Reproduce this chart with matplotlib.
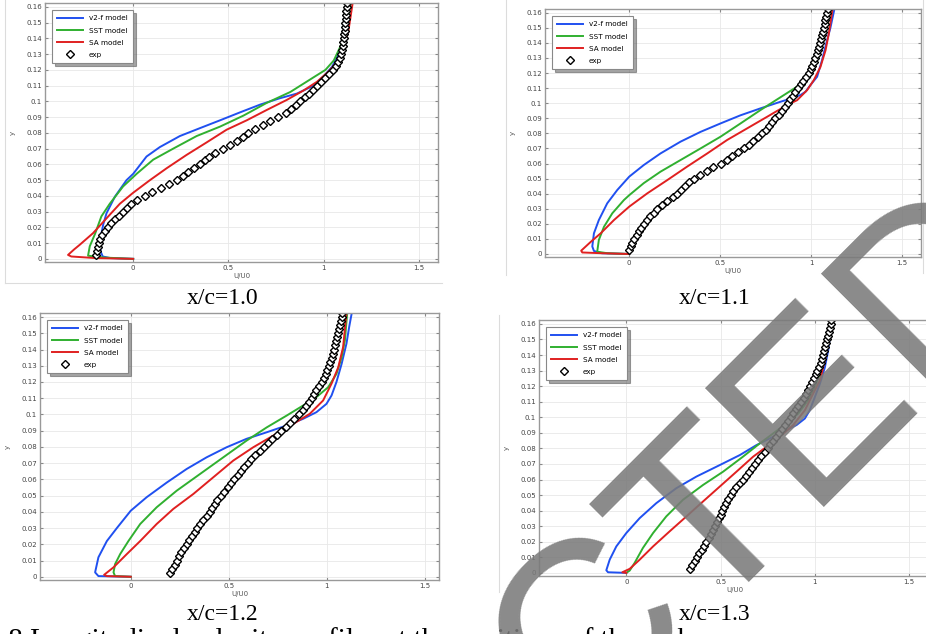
import matplotlib
matplotlib.use("Agg")
import matplotlib.pyplot as plt
from matplotlib.lines import Line2D

# --- data (U/U0 against y) ---
panel_names = ["x/c=1.0", "x/c=1.1", "x/c=1.2", "x/c=1.3"]
model_names = ["v2-f model", "SST model", "SA model"]
exp_name = "exp"

# panel x/c=1.0
v2f_y_10 = [0, 0.0005, 0.0015, 0.005, 0.01, 0.016, 0.022, 0.029, 0.0395, 0.05, 0.054, 0.065, 0.071, 0.078,
            0.083, 0.088, 0.093, 0.098, 0.102, 0.105, 0.110, 0.116, 0.122, 0.130, 0.141, 0.152, 0.1625]
v2f_u_10 = [0, -0.12, -0.16, -0.172, -0.172, -0.167, -0.157, -0.14, -0.096, -0.035, 0, 0.07, 0.14, 0.245,
            0.35, 0.456, 0.56, 0.667, 0.77, 0.86, 0.947, 1.0, 1.044, 1.079, 1.105, 1.123, 1.138]
sst_y_10 = [0, 0.0008, 0.002, 0.008, 0.016, 0.027, 0.035, 0.046, 0.054, 0.063, 0.070, 0.078, 0.084, 0.091,
            0.099, 0.106, 0.116, 0.120, 0.126, 0.135, 0.145, 0.1625]
sst_u_10 = [0, -0.15, -0.237, -0.228, -0.2, -0.167, -0.123, -0.053, 0.018, 0.105, 0.21, 0.333, 0.456, 0.579,
            0.70, 0.825, 0.956, 1.009, 1.053, 1.088, 1.114, 1.142]
sa_y_10 = [0, 0.0005, 0.0015, 0.0025, 0.006, 0.0089, 0.0163, 0.028, 0.035, 0.042, 0.050, 0.0575, 0.066,
           0.074, 0.082, 0.088, 0.0945, 0.101, 0.107, 0.1125, 0.119, 0.125, 0.135, 0.145, 0.1625]
sa_u_10 = [0, -0.2, -0.325, -0.342, -0.31, -0.281, -0.211, -0.123, -0.07, 0, 0.088, 0.175, 0.28,
           0.386, 0.49, 0.596, 0.70, 0.807, 0.895, 0.965, 1.026, 1.07, 1.105, 1.13, 1.152]

# panel x/c=1.1
v2f_y_11 = [0, 0.0005, 0.002, 0.005, 0.0137, 0.0225, 0.0336, 0.0424, 0.0513, 0.059, 0.0667, 0.0745, 0.081,
            0.0866, 0.092, 0.0966, 0.101, 0.103, 0.1054, 0.1076, 0.112, 0.1176, 0.1286, 0.142, 0.15, 0.1625]
v2f_u_11 = [0, -0.15, -0.194, -0.203, -0.194, -0.167, -0.121, -0.066, 0, 0.08, 0.172, 0.282, 0.392,
            0.502, 0.612, 0.722, 0.832, 0.886, 0.941, 0.969, 0.996, 1.033, 1.06, 1.088, 1.106, 1.128]
sst_y_11 = [0, 0.0005, 0.0015, 0.0093, 0.018, 0.027, 0.0358, 0.039, 0.047, 0.0546, 0.0623, 0.070, 0.0778,
            0.0866, 0.0955, 0.104, 0.111, 0.1153, 0.121, 0.131, 0.142, 0.151, 0.1625]
sst_u_11 = [0, -0.12, -0.176, -0.167, -0.139, -0.093, -0.029, 0, 0.08, 0.172, 0.282, 0.392, 0.502,
            0.612, 0.722, 0.832, 0.923, 0.969, 1.005, 1.042, 1.07, 1.088, 1.108]
sa_y_11 = [0, 0.0005, 0.001, 0.0022, 0.008, 0.0137, 0.0225, 0.0314, 0.0402, 0.049, 0.058, 0.0667, 0.0756,
           0.0833, 0.091, 0.0988, 0.102, 0.1087, 0.1154, 0.124, 0.135, 0.146, 0.1625]
sa_u_11 = [0, -0.15, -0.258, -0.264, -0.212, -0.157, -0.084, 0, 0.099, 0.209, 0.319, 0.429, 0.538,
           0.648, 0.758, 0.868, 0.923, 0.978, 1.015, 1.051, 1.079, 1.097, 1.118]

# panel x/c=1.2
v2f_y_12 = [0, 0.0004, 0.0027, 0.012, 0.022, 0.030, 0.0407, 0.049, 0.058, 0.0664, 0.0736, 0.0798, 0.085,
            0.089, 0.0932, 0.0973, 0.1014, 0.1065, 0.1117, 0.12, 0.131, 0.1436, 0.154, 0.1625]
v2f_u_12 = [0, -0.165, -0.182, -0.165, -0.122, -0.071, 0, 0.081, 0.183, 0.285, 0.387, 0.489, 0.591,
            0.693, 0.795, 0.879, 0.947, 0.998, 1.024, 1.049, 1.075, 1.1, 1.114, 1.127]
sst_y_12 = [0, 0.0004, 0.0027, 0.0078, 0.014, 0.022, 0.0325, 0.0428, 0.053, 0.0633, 0.0736, 0.0839, 0.092,
            0.0993, 0.1055, 0.1107, 0.1168, 0.125, 0.135, 0.1456, 0.1625]
sst_u_12 = [0, -0.08, -0.088, -0.08, -0.054, -0.012, 0.048, 0.132, 0.234, 0.353, 0.472, 0.591, 0.693,
            0.795, 0.879, 0.947, 1.007, 1.049, 1.075, 1.092, 1.104]
sa_y_12 = [0, 0.0004, 0.0012, 0.0058, 0.014, 0.022, 0.0325, 0.0418, 0.051, 0.0613, 0.0716, 0.0798, 0.087,
           0.0942, 0.1004, 0.1086, 0.119, 0.129, 0.1415, 0.1625]
sa_u_12 = [0, -0.122, -0.136, -0.088, -0.02, 0.048, 0.132, 0.217, 0.319, 0.421, 0.523, 0.625, 0.727,
           0.829, 0.913, 0.981, 1.024, 1.058, 1.083, 1.1]

# panel x/c=1.3
v2f_y_13 = [0, 0.0004, 0.0017, 0.0085, 0.017, 0.0256, 0.0352, 0.0448, 0.0544, 0.0619, 0.0693, 0.0757,
            0.0821, 0.0864, 0.0907, 0.095, 0.0992, 0.1045, 0.113, 0.1216, 0.132, 0.143, 0.1625]
v2f_u_13 = [0, -0.097, -0.106, -0.088, -0.053, 0, 0.071, 0.159, 0.265, 0.372, 0.496, 0.602,
            0.69, 0.761, 0.832, 0.903, 0.947, 0.973, 1.0, 1.027, 1.053, 1.071, 1.09]
sst_y_13 = [0, 0.0015, 0.0064, 0.016, 0.0256, 0.0363, 0.047, 0.0565, 0.065, 0.0747, 0.0832, 0.0896,
            0.096, 0.1024, 0.111, 0.1195, 0.128, 0.1408, 0.1536, 0.1625]
sst_u_13 = [0, 0.018, 0.044, 0.088, 0.142, 0.212, 0.301, 0.407, 0.513, 0.619, 0.708, 0.779,
            0.85, 0.912, 0.965, 1.0, 1.027, 1.053, 1.071, 1.09]
sa_y_13 = [0, 0.0004, 0.0026, 0.0085, 0.017, 0.0267, 0.0363, 0.0459, 0.0555, 0.065, 0.0747, 0.081,
           0.0875, 0.095, 0.1045, 0.1152, 0.1237, 0.1365, 0.149, 0.1625]
sa_u_13 = [0, -0.021, 0.018, 0.071, 0.142, 0.23, 0.319, 0.407, 0.496, 0.584, 0.673, 0.743,
           0.814, 0.885, 0.947, 0.991, 1.027, 1.053, 1.071, 1.082]

# experimental points (same y stations in every panel)
exp_y = [0.0025, 0.005, 0.0075, 0.01, 0.0125, 0.015, 0.0175, 0.02, 0.0225, 0.025, 0.0275, 0.03, 0.0325,
         0.035, 0.0375, 0.04, 0.0425, 0.045, 0.0475, 0.05, 0.0525, 0.055, 0.0575, 0.06, 0.0625, 0.065,
         0.0675, 0.07, 0.0725, 0.075, 0.0775, 0.08, 0.0825, 0.085, 0.0875, 0.09, 0.0925, 0.095, 0.0975,
         0.1, 0.1025, 0.105, 0.1075, 0.11, 0.1125, 0.115, 0.1175, 0.12, 0.1225, 0.125, 0.1275, 0.13,
         0.1325, 0.135, 0.1375, 0.14, 0.1425, 0.145, 0.1475, 0.15, 0.1525, 0.155, 0.1575, 0.16, 0.1625]
exp_u_10 = [-0.193, -0.188, -0.183, -0.178, -0.172, -0.162, -0.148, -0.133, -0.117, -0.096, -0.076, -0.054,
            -0.033, -0.012, 0.018, 0.06, 0.10, 0.145, 0.19, 0.23, 0.262, 0.29, 0.32, 0.35, 0.375, 0.40,
            0.43, 0.47, 0.51, 0.545, 0.575, 0.60, 0.64, 0.68, 0.72, 0.76, 0.80, 0.83, 0.855, 0.875, 0.90,
            0.925, 0.945, 0.965, 0.985, 1.005, 1.03, 1.05, 1.065, 1.075, 1.085, 1.092, 1.097, 1.10, 1.103,
            1.106, 1.108, 1.11, 1.112, 1.114, 1.116, 1.118, 1.119, 1.121, 1.123]
exp_u_11 = [0.0, 0.008, 0.018, 0.029, 0.041, 0.054, 0.067, 0.081, 0.098, 0.116, 0.135, 0.154, 0.18, 0.209,
            0.24, 0.264, 0.285, 0.308, 0.33, 0.355, 0.39, 0.425, 0.463, 0.502, 0.535, 0.567, 0.60, 0.63,
            0.656, 0.682, 0.707, 0.73, 0.75, 0.769, 0.787, 0.804, 0.822, 0.839, 0.856, 0.872, 0.886, 0.90,
            0.914, 0.927, 0.942, 0.957, 0.972, 0.987, 0.997, 1.006, 1.015, 1.024, 1.031, 1.038, 1.045,
            1.051, 1.056, 1.061, 1.066, 1.07, 1.075, 1.079, 1.084, 1.088, 1.092]
exp_u_12 = [0.20, 0.21, 0.225, 0.234, 0.245, 0.256, 0.271, 0.285, 0.298, 0.312, 0.326, 0.34, 0.353, 0.37,
            0.388, 0.402, 0.415, 0.428, 0.442, 0.46, 0.477, 0.494, 0.511, 0.528, 0.545, 0.562, 0.58,
            0.597, 0.615, 0.636, 0.657, 0.678, 0.70, 0.722, 0.745, 0.768, 0.79, 0.812, 0.835, 0.858,
            0.876, 0.894, 0.91, 0.922, 0.935, 0.947, 0.96, 0.975, 0.986, 0.995, 1.003, 1.01, 1.018,
            1.026, 1.033, 1.038, 1.043, 1.048, 1.052, 1.057, 1.062, 1.067, 1.071, 1.075, 1.079]
exp_u_13 = [0.338, 0.35, 0.363, 0.376, 0.388, 0.401, 0.414, 0.425, 0.437, 0.448, 0.459, 0.47, 0.48, 0.49,
            0.5, 0.508, 0.517, 0.53, 0.542, 0.555, 0.567, 0.584, 0.601, 0.617, 0.633, 0.65, 0.668, 0.684,
            0.7, 0.717, 0.734, 0.749, 0.763, 0.777, 0.793, 0.81, 0.824, 0.843, 0.858, 0.872, 0.886, 0.899,
            0.913, 0.927, 0.941, 0.955, 0.965, 0.975, 0.985, 0.995, 1.004, 1.012, 1.021, 1.03, 1.037,
            1.042, 1.047, 1.053, 1.058, 1.063, 1.069, 1.073, 1.078, 1.083, 1.087]

x_ticks = [0, 0.5, 1, 1.5]
x_tick_labels = ["0", "0.5", "1", "1.5"]
y_ticks = [0, 0.01, 0.02, 0.03, 0.04, 0.05, 0.06, 0.07, 0.08, 0.09, 0.1, 0.11, 0.12, 0.13, 0.14, 0.15, 0.16]
y_tick_labels = ["0", "0.01", "0.02", "0.03", "0.04", "0.05", "0.06", "0.07", "0.08", "0.09", "0.1",
                 "0.11", "0.12", "0.13", "0.14", "0.15", "0.16"]

caption = "Fig. 8 Longitudinal velocity profiles at the positions of the wake"
watermark = "PROTECTED"

W, H = 926, 634
COLORS = ["#2050f0", "#30b030", "#e02020"]


def px_box(left, top, right, bottom):
    # pixel box -> figure fraction rect
    return [left / W, 1 - bottom / H, (right - left) / W, (bottom - top) / H]


def draw_panel(fig, box, xmax, curves, exp_u, title, title_xy):
    ax = fig.add_axes(px_box(*box))
    for (u, y), name, col in zip(curves, model_names, COLORS):
        ax.plot(u, y, color=col, lw=1.4, label=name)
    ax.plot(exp_u, exp_y, ls="none", marker="D", ms=3.6, mfc="white", mec="black", mew=1.0,
            label=exp_name)
    ax.set_xlim(-0.463, xmax)
    ax.set_ylim(-0.002, 0.1625)
    ax.set_xticks(x_ticks)
    ax.set_xticklabels(x_tick_labels)
    ax.set_yticks(y_ticks)
    ax.set_yticklabels(y_tick_labels)
    ax.tick_params(labelsize=5, colors="#888", labelcolor="#444", direction="in", length=2.5,
                   top=True, right=True, pad=2)
    ax.grid(True, color="#e8e8e8", lw=0.6)
    for s in ax.spines.values():
        s.set_color("#999")
        s.set_linewidth(1.0)
    ax.set_xlabel("U/U0", fontsize=5, color="#555", labelpad=1.5)
    ax.set_ylabel("y", fontsize=5, color="#555", labelpad=8)
    leg = ax.legend(loc="upper left", fontsize=5.2, frameon=True, fancybox=False, shadow=True,
                    handlelength=3.6, labelspacing=0.85, borderaxespad=1.0, borderpad=0.7)
    leg.get_frame().set_edgecolor("#888")
    leg.get_frame().set_linewidth(0.8)
    fig.text(title_xy[0] / W, 1 - title_xy[1] / H, title, ha="center", va="center",
             fontsize=17, family="Liberation Serif")
    return ax


fig = plt.figure(figsize=(W / 100, H / 100), dpi=100)

draw_panel(fig, (45, 3, 438, 262), 1.60,
           [(v2f_u_10, v2f_y_10), (sst_u_10, sst_y_10), (sa_u_10, sa_y_10)], exp_u_10,
           panel_names[0], (223, 299))
draw_panel(fig, (545, 9, 921, 257), 1.604,
           [(v2f_u_11, v2f_y_11), (sst_u_11, sst_y_11), (sa_u_11, sa_y_11)], exp_u_11,
           panel_names[1], (715, 299))
draw_panel(fig, (40, 313, 439, 580), 1.572,
           [(v2f_u_12, v2f_y_12), (sst_u_12, sst_y_12), (sa_u_12, sa_y_12)], exp_u_12,
           panel_names[2], (223, 615))
draw_panel(fig, (539, 320, 931, 576), 1.616,
           [(v2f_u_13, v2f_y_13), (sst_u_13, sst_y_13), (sa_u_13, sa_y_13)], exp_u_13,
           panel_names[3], (715, 615))

# thin edges of the pasted screenshots
edges = [((5, 0), (5, 283)), ((5, 283), (442, 283)), ((506, 0), (506, 275)),
         ((923, 0), (923, 273)), ((499, 315), (499, 592))]
for (x0, y0), (x1, y1) in edges:
    fig.add_artist(Line2D([x0 / W, x1 / W], [1 - y0 / H, 1 - y1 / H], color="#dcdcdc", lw=0.8))

# figure caption, only the top of it is inside the picture
fig.text(-45 / W, 1 - 648 / H, caption, ha="left", va="baseline", fontsize=21,
         family="Liberation Serif")

# grey diagonal watermark on top of everything
fig.text(1045 / W, 1 - 267 / H, watermark, ha="right", va="baseline", rotation=45,
         rotation_mode="anchor", fontsize=176, family="Liberation Sans",
         color="#7a7a7a", alpha=0.88, zorder=10)

fig.savefig("out.png", dpi=100)
